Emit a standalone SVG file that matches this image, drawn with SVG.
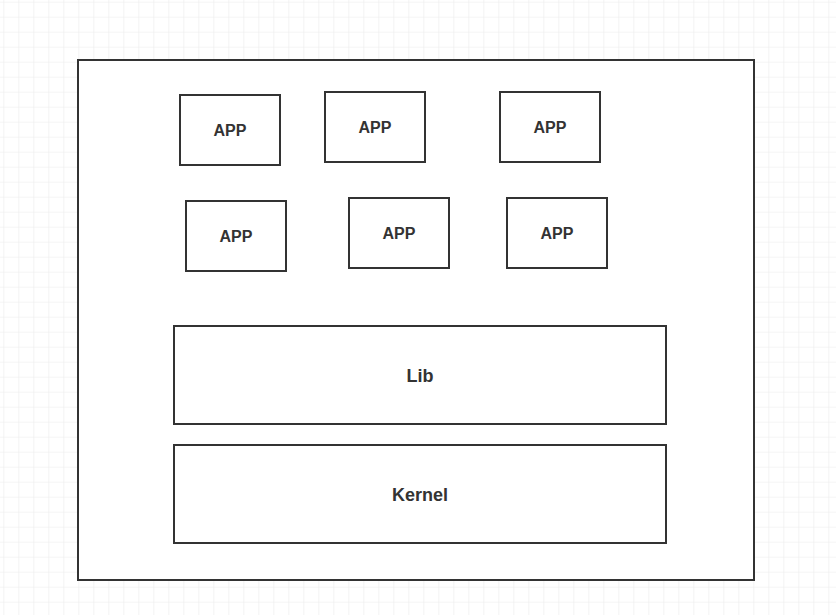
<svg xmlns="http://www.w3.org/2000/svg" width="836" height="615" viewBox="0 0 836 615">
<defs>
<pattern id="grid" x="3.3" y="1.7" width="15" height="15" patternUnits="userSpaceOnUse">
<path d="M0 0H15M0 0V15" fill="none" stroke="#ebebeb" stroke-width="1.2"/>
</pattern>
</defs>
<style>
.box{fill:#fff;stroke:#333;stroke-width:2}
.t{font-family:"Liberation Sans",Arial,sans-serif;font-weight:bold;fill:#333;text-anchor:middle}
.s{font-size:16px}
.l{font-size:18px}
</style>
<rect width="836" height="615" fill="#fff"/>
<rect width="836" height="615" fill="url(#grid)"/>
<g id="frame"><rect class="box" x="78" y="60" width="676" height="520"/></g>
<g id="app1"><rect class="box" x="180" y="95" width="100" height="70"/><text class="t s" x="230" y="135.5">APP</text></g>
<g id="app2"><rect class="box" x="325" y="92" width="100" height="70"/><text class="t s" x="375" y="132.5">APP</text></g>
<g id="app3"><rect class="box" x="500" y="92" width="100" height="70"/><text class="t s" x="550" y="132.5">APP</text></g>
<g id="app4"><rect class="box" x="186" y="201" width="100" height="70"/><text class="t s" x="236" y="241.5">APP</text></g>
<g id="app5"><rect class="box" x="349" y="198" width="100" height="70"/><text class="t s" x="399" y="238.5">APP</text></g>
<g id="app6"><rect class="box" x="507" y="198" width="100" height="70"/><text class="t s" x="557" y="238.5">APP</text></g>
<g id="lib"><rect class="box" x="174" y="326" width="492" height="98"/><text class="t l" x="420" y="382">Lib</text></g>
<g id="kernel"><rect class="box" x="174" y="445" width="492" height="98"/><text class="t l" x="420" y="501">Kernel</text></g>
<g id="connectors"></g>
</svg>
